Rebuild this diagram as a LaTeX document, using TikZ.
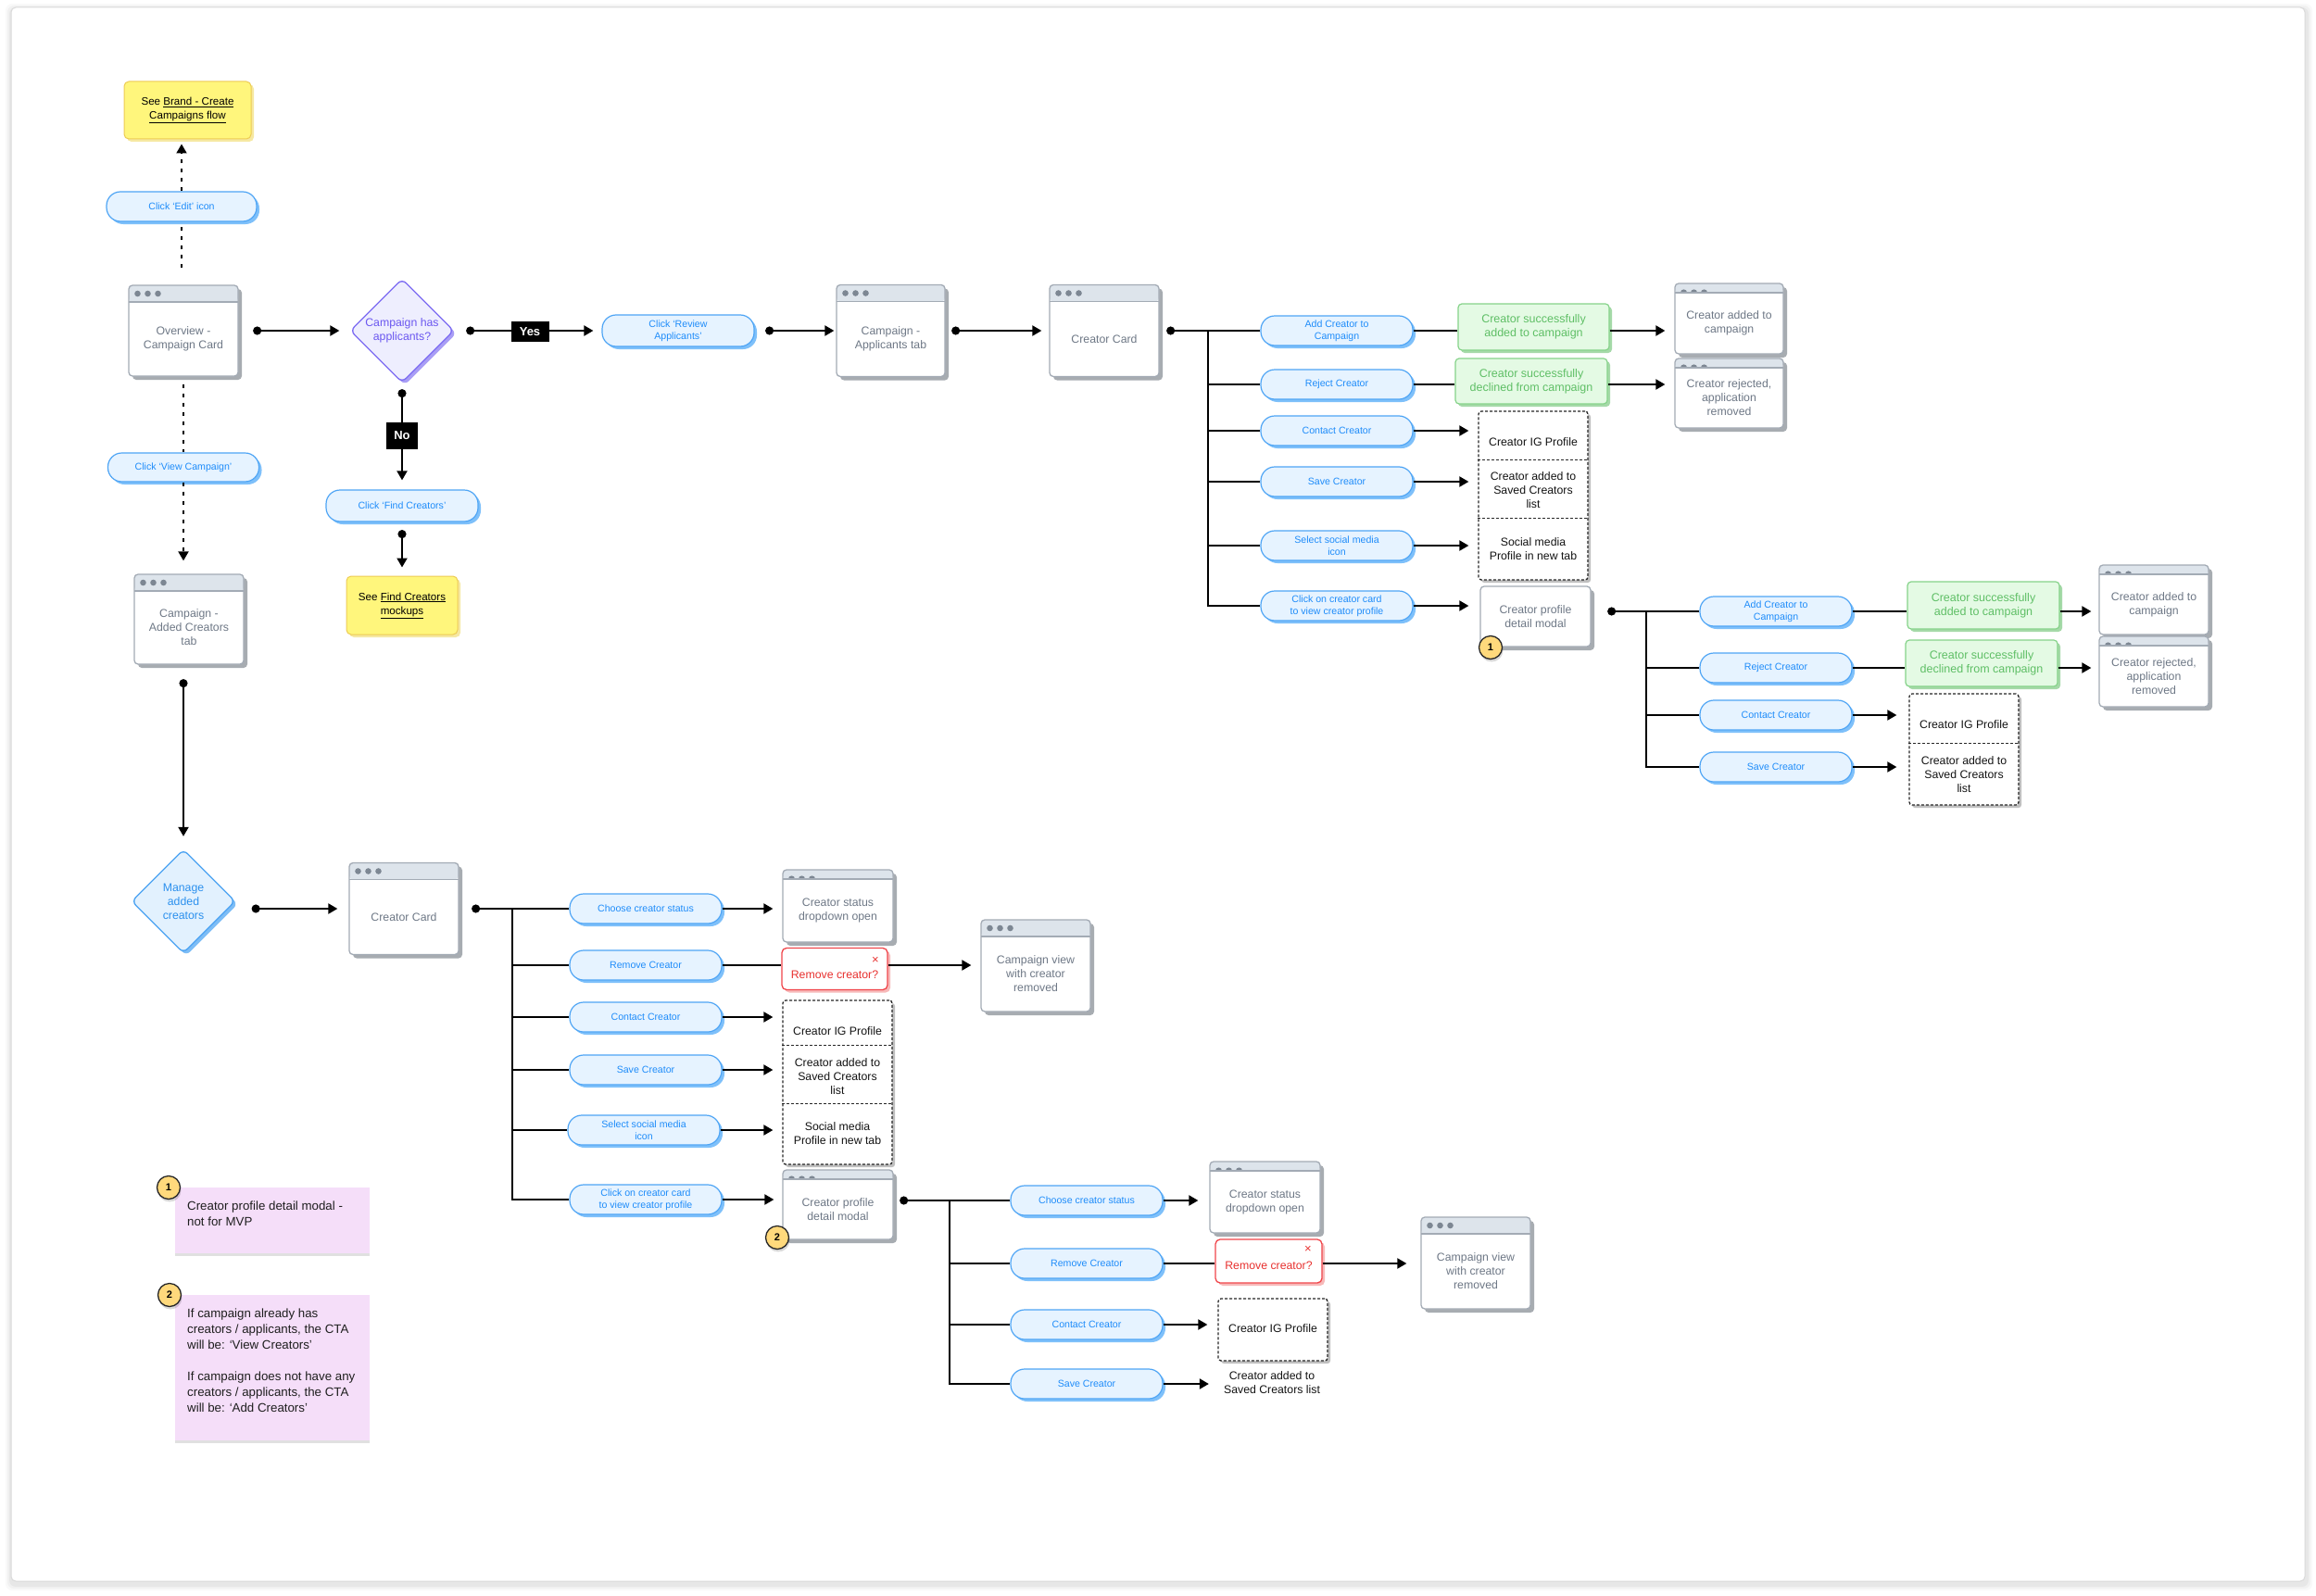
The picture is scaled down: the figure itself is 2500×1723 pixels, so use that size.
\documentclass[tikz,border=0pt]{standalone}
\usepackage{fontspec}
\setmainfont{Liberation Sans}
\usetikzlibrary{arrows.meta,shapes.geometric,shadows,calc}

\definecolor{scrborder}{HTML}{A3ABB5}
\definecolor{hdrfill}{HTML}{DDE4EB}
\definecolor{hdrline}{HTML}{A3ABB5}
\definecolor{dotcol}{HTML}{7D8793}
\definecolor{scrtext}{HTML}{6E7886}
\definecolor{scrshadow}{HTML}{A7ACB1}
\definecolor{pillfill}{HTML}{E6F3FF}
\definecolor{pillborder}{HTML}{4FA5F5}
\definecolor{pilltext}{HTML}{1E8CFA}
\definecolor{pillshadow}{HTML}{7EC0FA}
\definecolor{grfill}{HTML}{E4FAE4}
\definecolor{grborder}{HTML}{86D38A}
\definecolor{grtext}{HTML}{5FBF66}
\definecolor{grshadow}{HTML}{A5D9A8}
\definecolor{redborder}{HTML}{F0454A}
\definecolor{redtext}{HTML}{E8312F}
\definecolor{redshadow}{HTML}{F7B9B9}
\definecolor{yfill}{HTML}{FFF67C}
\definecolor{yborder}{HTML}{EDCB55}
\definecolor{yshadow}{HTML}{F6E8A2}
\definecolor{pfill}{HTML}{F5DEF9}
\definecolor{dafill}{HTML}{EEEEFE}
\definecolor{daborder}{HTML}{7C6BF2}
\definecolor{datext}{HTML}{6B57F0}
\definecolor{dashadow}{HTML}{A99EF5}
\definecolor{dbfill}{HTML}{E2F1FE}
\definecolor{dbborder}{HTML}{4AA2F2}
\definecolor{dbtext}{HTML}{2B90EE}
\definecolor{dbshadow}{HTML}{7DBDF6}
\definecolor{badgefill}{HTML}{FFD97C}

\tikzset{
  hdrfull/.style={path picture={
    \fill[hdrfill] (path picture bounding box.north west) rectangle ([yshift=-18pt]path picture bounding box.north east);
    \draw[hdrline,line width=1.2pt] ([yshift=-18pt]path picture bounding box.north west) -- ([yshift=-18pt]path picture bounding box.north east);
    \foreach \k in {0,1,2}{\fill[dotcol] ([xshift=9.5pt+11pt*\k, yshift=-9pt]path picture bounding box.north west) circle[radius=3.3pt];}
  }},
  hdrhalf/.style={path picture={
    \begin{scope}
      \clip (path picture bounding box.north west) rectangle ([yshift=-10pt]path picture bounding box.north east);
      \fill[hdrfill] (path picture bounding box.north west) rectangle ([yshift=-10pt]path picture bounding box.north east);
      \foreach \k in {0,1,2}{\fill[dotcol] ([xshift=9.5pt+11pt*\k, yshift=-10pt]path picture bounding box.north west) circle[radius=3.6pt];}
    \end{scope}
    \draw[hdrline,line width=1.2pt] ([yshift=-10pt]path picture bounding box.north west) -- ([yshift=-10pt]path picture bounding box.north east);
  }},
  hdrnone/.style={},
  scr/.style={draw=scrborder, line width=1.3pt, fill=white, rounded corners=4pt, inner sep=0pt,
    drop shadow={shadow xshift=4pt, shadow yshift=-4pt, fill=scrshadow, opacity=1}},
  scrtxt/.style={text=scrtext, font=\fontsize{12.3}{15}\selectfont, align=center, inner sep=0pt},
  pill/.style={draw=pillborder, line width=1.2pt, fill=pillfill, rounded corners=15pt,
    minimum width=164pt, minimum height=32pt, inner sep=0pt, text=pilltext,
    font=\fontsize{10.6}{12.6}\selectfont, align=center,
    drop shadow={shadow xshift=3pt, shadow yshift=-3pt, fill=pillshadow, opacity=1}},
  green/.style={draw=grborder, line width=1.2pt, fill=grfill, rounded corners=4pt,
    minimum width=164pt, minimum height=50pt, inner sep=0pt, text=grtext,
    font=\fontsize{12.5}{15}\selectfont, align=center,
    drop shadow={shadow xshift=3pt, shadow yshift=-3pt, fill=grshadow, opacity=1}},
  redbox/.style={draw=redborder, line width=1.3pt, fill=white, rounded corners=5pt,
    minimum width=114pt, minimum height=45pt, inner sep=0pt,
    drop shadow={shadow xshift=3pt, shadow yshift=-3pt, fill=redshadow, opacity=1}},
  redtxt/.style={text=redtext, font=\fontsize{12.3}{15}\selectfont, inner sep=0pt},
  stack/.style={draw=black!85, line width=1.3pt, dash pattern=on 3pt off 2pt, fill=white,
    rounded corners=3pt, minimum width=118pt, inner sep=0pt,
    drop shadow={shadow xshift=3pt, shadow yshift=-3pt, fill=black!25, opacity=1}},
  divider/.style={draw=black!85, line width=1.3pt, dash pattern=on 3pt off 2pt},
  segtxt/.style={text=black!92, font=\fontsize{12.3}{15}\selectfont, align=center, inner sep=0pt},
  ynote/.style={fill=yfill, draw=yborder, line width=1pt, rounded corners=5pt, inner sep=0pt,
    align=center, text=black, font=\fontsize{11.6}{15}\selectfont,
    drop shadow={shadow xshift=3pt, shadow yshift=-3pt, fill=yshadow, opacity=1}},
  pnote/.style={fill=pfill, inner sep=0pt,
    drop shadow={shadow xshift=0pt, shadow yshift=-3pt, fill=black, opacity=0.12}},
  ptxt/.style={text=black!88, font=\fontsize{13.3}{17}\selectfont, align=left, inner sep=0pt},
  badge/.style={circle, fill=badgefill, draw=black!85, line width=1.3pt, minimum size=25pt,
    inner sep=0pt, font=\bfseries\fontsize{11}{11}\selectfont,
    drop shadow={shadow xshift=1pt, shadow yshift=-3pt, fill=black, opacity=0.15}},
  lbl/.style={fill=black, text=white, font=\bfseries\fontsize{13}{13}\selectfont, inner sep=0pt},
  dia/.style={diamond, aspect=1, minimum width=112pt, minimum height=112pt, inner sep=0pt,
    line width=1.3pt, rounded corners=6pt, align=center, font=\fontsize{12.3}{15}\selectfont},
  diaA/.style={dia, draw=daborder, fill=dafill, text=datext,
    drop shadow={shadow xshift=3pt, shadow yshift=-3pt, fill=dashadow, opacity=1}},
  diaB/.style={dia, draw=dbborder, fill=dbfill, text=dbtext,
    drop shadow={shadow xshift=3pt, shadow yshift=-3pt, fill=dbshadow, opacity=1}},
  conn/.style={line width=2pt, draw=black},
  arr/.style={conn, -{Triangle[length=10pt,width=11pt]}},
  dotline/.style={conn, {Circle[length=9pt,width=9pt]}-},
  flow/.style={conn, {Circle[length=9pt,width=9pt]}-{Triangle[length=10pt,width=11pt]}},
  dotl/.style={line width=2pt, dash pattern=on 4pt off 6pt},
}

\newcommand\scrbox[8]{%
  \node[scr, #6, minimum width=#4pt, minimum height=#5pt] (#1) at (#2,#3) {};
  \node[scrtxt] (#1-t) at ($(#2,#3)+(0,#7)$) {#8};
}

\begin{document}
\begin{tikzpicture}[x=1pt,y=-1pt]
\useasboundingbox (0,0) rectangle (2500,1723);
\fill[white] (0,0) rectangle (2500,1723);
\foreach \s/\o in {7/0.025,5/0.03,3/0.04}{
  \fill[black,opacity=\o,rounded corners=7pt] (12-\s+1,8-\s+3) rectangle (2488+\s+1,1707+\s+3);}
\draw[draw=black!15, line width=1pt, fill=white, rounded corners=5pt] (12,8) rectangle (2488,1707);

% ---------- top-left ----------
\node[ynote, minimum width=137pt, minimum height=62pt] (y1) at (202.5,119)
  {See \underline{Brand - Create}\\\underline{Campaigns flow}};
\node[pill, minimum width=162pt] (edit) at (196,223) {Click ‘Edit’ icon};
\scrbox{ov}{198}{357}{118}{98}{hdrfull}{9}{Overview -\\Campaign Card}
\node[pill, minimum width=163pt, minimum height=31pt] (view) at (198,504.5) {Click ‘View Campaign’};
\scrbox{added}{204}{668.5}{118}{97}{hdrfull}{9}{Campaign -\\Added Creators\\tab}
\node[diaA] (d1) at (434,357) {Campaign has\\applicants?};
\node[pill, minimum height=34pt] (find) at (434,546) {Click ‘Find Creators’};
\node[ynote, minimum width=120pt, minimum height=63pt] (y2) at (434,653.5)
  {See \underline{Find Creators}\\\underline{mockups}};
\node[pill, minimum height=34pt] (review) at (732,357) {Click ‘Review\\Applicants’};
\scrbox{app}{961.5}{357}{117}{99}{hdrfull}{9}{Campaign -\\Applicants tab}
\scrbox{cc1}{1192}{357}{118}{99}{hdrfull}{9}{Creator Card}

% ---------- cluster A ----------
\node[pill] (pA1) at (1443,357) {Add Creator to\\Campaign};
\node[pill] (pA2) at (1443,415) {Reject Creator};
\node[pill] (pA3) at (1443,465) {Contact Creator};
\node[pill] (pA4) at (1443,520) {Save Creator};
\node[pill] (pA5) at (1443,589) {Select social media\\icon};
\node[pill] (pA6) at (1443,654) {Click on creator card\\to view creator profile};
\node[green, minimum width=163pt] (g1) at (1655.5,353) {Creator successfully\\added to campaign};
\node[green, minimum height=49pt] (g2) at (1653,411.5) {Creator successfully\\declined from campaign};
\scrbox{ca1}{1866.5}{344}{117}{76}{hdrhalf}{5}{Creator added to\\campaign}
\scrbox{cr1}{1866.5}{424.5}{117}{75}{hdrhalf}{5}{Creator rejected,\\application\\removed}
\node[stack, minimum height=182pt] (s1) at (1655,535) {};
\draw[divider] ($(s1.north west)+(0,53)$) -- ($(s1.north east)+(0,53)$);
\draw[divider] ($(s1.north west)+(0,116)$) -- ($(s1.north east)+(0,116)$);
\node[segtxt] (s1a) at (1655,477) {Creator IG Profile};
\node[segtxt] (s1b) at (1655,529) {Creator added to\\Saved Creators\\list};
\node[segtxt] (s1c) at (1655,593) {Social media\\Profile in new tab};
\scrbox{pm1}{1657.5}{665.5}{119}{65}{hdrnone}{0}{Creator profile\\detail modal}
\node[badge] (b1) at (1609,699) {1};

% ---------- cluster B ----------
\node[pill] (pB1) at (1917,660) {Add Creator to\\Campaign};
\node[pill] (pB2) at (1917,721) {Reject Creator};
\node[pill] (pB3) at (1917,772) {Contact Creator};
\node[pill] (pB4) at (1917,828) {Save Creator};
\node[green, minimum height=51pt] (g3) at (2141,653.5) {Creator successfully\\added to campaign};
\node[green] (g4) at (2139,716) {Creator successfully\\declined from campaign};
\scrbox{ca2}{2325}{647.5}{118}{75}{hdrhalf}{5}{Creator added to\\campaign}
\scrbox{cr2}{2325}{725}{118}{76}{hdrhalf}{5}{Creator rejected,\\application\\removed}
\node[stack, minimum height=120pt] (s2) at (2120,809) {};
\draw[divider] ($(s2.north west)+(0,54)$) -- ($(s2.north east)+(0,54)$);
\node[segtxt] (s2a) at (2120,782) {Creator IG Profile};
\node[segtxt] (s2b) at (2120,836) {Creator added to\\Saved Creators\\list};

% ---------- bottom-left ----------
\node[diaB] (d2) at (198,973) {Manage\\added\\creators};
\scrbox{cc2}{436}{981}{118}{99}{hdrfull}{9}{Creator Card}

% ---------- cluster C ----------
\node[pill] (pC1) at (697,981) {Choose creator status};
\node[pill] (pC2) at (697,1042) {Remove Creator};
\node[pill] (pC3) at (697,1098) {Contact Creator};
\node[pill] (pC4) at (697,1155) {Save Creator};
\node[pill] (pC5) at (695,1220) {Select social media\\icon};
\node[pill] (pC6) at (697,1295) {Click on creator card\\to view creator profile};
\scrbox{sd1}{904.5}{978}{119}{78}{hdrhalf}{5}{Creator status\\dropdown open}
\node[redbox] (r1) at (901,1046) {};
\node[redtxt] (r1-t) at (901,1052) {Remove creator?};
\node[redtxt, font=\fontsize{13}{13}\selectfont] (r1-x) at (945,1037) {×};
\scrbox{cv1}{1118}{1042.5}{118}{99}{hdrfull}{9}{Campaign view\\with creator\\removed}
\node[stack, minimum height=177pt] (s3) at (904,1168.5) {};
\draw[divider] ($(s3.north west)+(0,49)$) -- ($(s3.north east)+(0,49)$);
\draw[divider] ($(s3.north west)+(0,112)$) -- ($(s3.north east)+(0,112)$);
\node[segtxt] (s3a) at (904,1113) {Creator IG Profile};
\node[segtxt] (s3b) at (904,1162) {Creator added to\\Saved Creators\\list};
\node[segtxt] (s3c) at (904,1224) {Social media\\Profile in new tab};
\scrbox{pm2}{904.5}{1300.5}{119}{75}{hdrhalf}{5}{Creator profile\\detail modal}
\node[badge] (b2) at (839,1336) {2};

% ---------- cluster D ----------
\node[pill] (pD1) at (1173,1296) {Choose creator status};
\node[pill] (pD2) at (1173,1364) {Remove Creator};
\node[pill] (pD3) at (1173,1430) {Contact Creator};
\node[pill] (pD4) at (1173,1494) {Save Creator};
\scrbox{sd2}{1365.5}{1292.5}{119}{77}{hdrhalf}{5}{Creator status\\dropdown open}
\node[redbox, minimum width=115pt, minimum height=47pt] (r2) at (1369.5,1361.5) {};
\node[redtxt] (r2-t) at (1369.5,1366) {Remove creator?};
\node[redtxt, font=\fontsize{13}{13}\selectfont] (r2-x) at (1412,1349) {×};
\scrbox{cv2}{1593}{1363.5}{118}{99}{hdrfull}{9}{Campaign view\\with creator\\removed}
\node[stack, minimum height=67pt] (s4) at (1374,1435.5) {};
\node[segtxt] (s4a) at (1374,1434) {Creator IG Profile};
\node[segtxt] (t4) at (1373,1493) {Creator added to\\Saved Creators list};

% ---------- notes ----------
\node[pnote, minimum width=210pt, minimum height=71pt] (n1) at (294,1317.5) {};
\node[ptxt, anchor=north west] (n1-t) at (202,1297) {Creator profile detail modal -\\not for MVP};
\node[badge] (nb1) at (182,1282) {1};
\node[pnote, minimum width=210pt, minimum height=157pt] (n2) at (294,1476.5) {};
\node[ptxt, anchor=north west] (n2-t) at (202,1413) {If campaign already has\\creators / applicants, the CTA\\will be: ‘View Creators’\\[17pt]If campaign does not have any\\creators / applicants, the CTA\\will be: ‘Add Creators’};
\node[badge] (nb2) at (183,1398) {2};

% ---------- connectors: top-left ----------
\draw[dotl, shorten <=18pt] (ov.north -| edit) -- (edit.south);
\draw[dotl, -{Triangle[length=10pt,width=11pt]}, shorten >=5pt] (edit.north) -- (edit.north |- y1.south);
\draw[dotl, shorten <=8pt] (ov.south -| view) -- (view.north);
\draw[dotl, -{Triangle[length=10pt,width=11pt]}, shorten >=14pt] (view.south) -- (view.south |- added.north);
\draw[flow, shorten <=15.5pt, shorten >=13.5pt] (added.south -| d2.north) -- (d2.north);
\draw[flow, shorten <=15.5pt, shorten >=11pt] (ov) -- (d1);
\draw[flow, shorten <=12.5pt, shorten >=9pt] (d1) -- (review);
\draw[flow, shorten <=6.5pt, shorten >=10pt] (d1) -- (find);
\draw[flow, shorten <=8.5pt, shorten >=9pt] (find) -- (y2);
\draw[flow, shorten <=11.5pt, shorten >=2pt] (review) -- (app);
\draw[flow, shorten <=6.5pt, shorten >=8pt] (app) -- (cc1);
\draw[flow, shorten <=17pt, shorten >=12pt] (d2.east |- cc2) -- (cc2);
\node[lbl, minimum width=41pt, minimum height=22pt] (yes) at (572,358) {Yes};
\node[lbl, minimum width=34pt, minimum height=29pt] (no) at (434,470) {No};

% ---------- connectors: cluster A ----------
\draw[dotline, shorten <=7.5pt] (cc1) -- (pA1);
\coordinate (tA) at (1304,357);
\foreach \p in {pA2,pA3,pA4,pA5,pA6}{\draw[conn] (tA) |- (\p);}
\draw[conn] (pA1) -- (pA1 -| g1.west);
\draw[arr, shorten >=10pt] (pA1 -| g1.east) -- (pA1 -| ca1.west);
\draw[conn] (pA2) -- (pA2 -| g2.west);
\draw[arr, shorten >=10pt] (pA2 -| g2.east) -- (pA2 -| cr1.west);
\foreach \p in {pA3,pA4,pA5}{\draw[arr, shorten >=10pt] (\p) -- (\p -| s1.west);}
\draw[arr, shorten >=12pt] (pA6) -- (pA6 -| pm1.west);

% ---------- connectors: cluster B ----------
\draw[dotline, shorten <=17.5pt] (pm1.east |- pB1) -- (pB1);
\coordinate (tB) at (1777,660);
\foreach \p in {pB2,pB3,pB4}{\draw[conn] (tB) |- (\p);}
\draw[conn] (pB1) -- (pB1 -| g3.west);
\draw[arr, shorten >=8pt] (pB1 -| g3.east) -- (pB1 -| ca2.west);
\draw[conn] (pB2) -- (pB2 -| g4.west);
\draw[arr, shorten >=8pt] (pB2 -| g4.east) -- (pB2 -| cr2.west);
\foreach \p in {pB3,pB4}{\draw[arr, shorten >=13pt] (\p) -- (\p -| s2.west);}

% ---------- connectors: cluster C ----------
\draw[dotline, shorten <=13.5pt] (cc2) -- (pC1);
\coordinate (tC) at (553,981);
\foreach \p in {pC2,pC3,pC4,pC5,pC6}{\draw[conn] (tC) |- (\p);}
\draw[arr, shorten >=10pt] (pC1) -- (pC1 -| sd1.west);
\draw[conn] (pC2) -- (pC2 -| r1.west);
\draw[arr, shorten >=10pt] (pC2 -| r1.east) -- (pC2 -| cv1.west);
\foreach \p in {pC3,pC4,pC5}{\draw[arr, shorten >=10pt] (\p) -- (\p -| s3.west);}
\draw[arr, shorten >=9pt] (pC6) -- (pC6 -| pm2.west);

% ---------- connectors: cluster D ----------
\draw[dotline, shorten <=6.5pt] (pm2.east |- pD1) -- (pD1);
\coordinate (tD) at (1025,1296);
\foreach \p in {pD2,pD3,pD4}{\draw[conn] (tD) |- (\p);}
\draw[arr, shorten >=12pt] (pD1) -- (pD1 -| sd2.west);
\draw[conn] (pD2) -- (pD2 -| r2.west);
\draw[arr, shorten >=15pt] (pD2 -| r2.east) -- (pD2 -| cv2.west);
\draw[arr, shorten >=11pt] (pD3) -- (pD3 -| s4.west);
\draw[arr, shorten >=16pt] (pD4) -- (pD4 -| t4.west);
\end{tikzpicture}
\end{document}
